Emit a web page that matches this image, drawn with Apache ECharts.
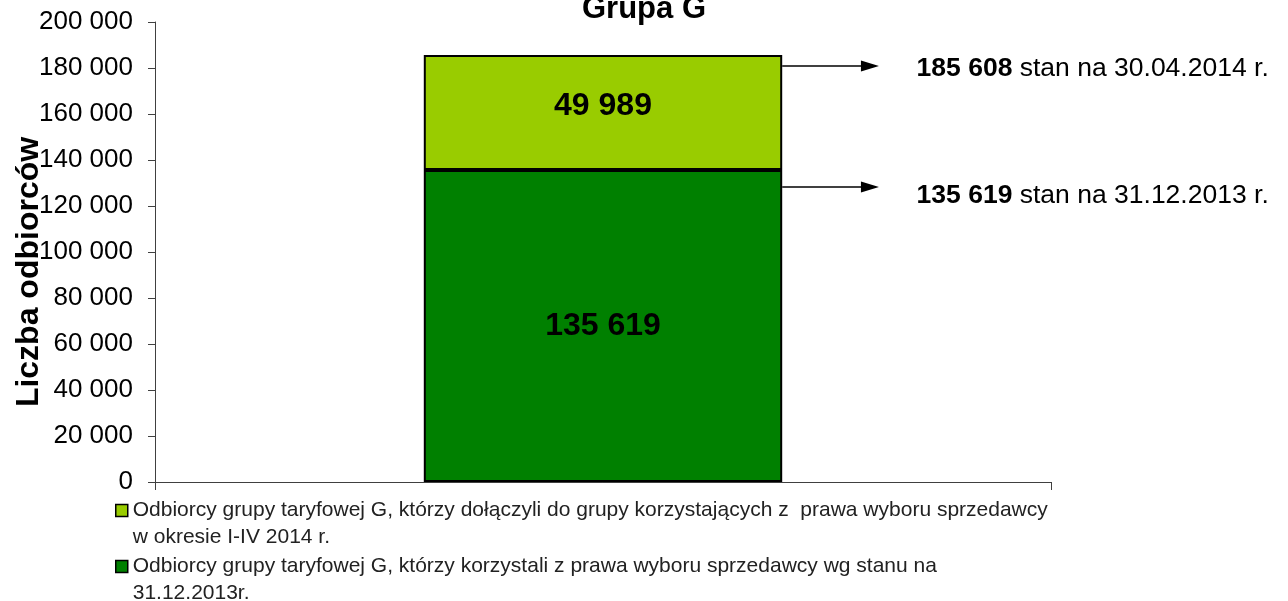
<!DOCTYPE html>
<html><head><meta charset="utf-8">
<script src="https://cdn.jsdelivr.net/npm/echarts@6/dist/echarts.min.js"></script>
<style>html,body{margin:0;padding:0;background:#fff}#c{width:1288px;height:601px}</style>
</head><body><div id="c"></div>
<script>
const title = 'Grupa G';
const categories = ['Grupa G'];
const seriesBaseName = 'Odbiorcy grupy taryfowej G, którzy korzystali z prawa wyboru sprzedawcy wg stanu na 31.12.2013r.';
const seriesAddedName = 'Odbiorcy grupy taryfowej G, którzy dołączyli do grupy korzystających z  prawa wyboru sprzedawcy w okresie I-IV 2014 r.';
const legendBaseText = 'Odbiorcy grupy taryfowej G, którzy korzystali z prawa wyboru sprzedawcy wg stanu na\n31.12.2013r.';
const legendAddedText = 'Odbiorcy grupy taryfowej G, którzy dołączyli do grupy korzystających z  prawa wyboru sprzedawcy\nw okresie I-IV 2014 r.';
const baseValues = [135619];
const addedValues = [49989];
const annotationValues = [185608, 135619];
const annotationDates = ['30.04.2014', '31.12.2013'];
const yTicks = [0, 20000, 40000, 60000, 80000, 100000, 120000, 140000, 160000, 180000, 200000];
const yAxisName = 'Liczba odbiorców';

// style-only offsets (pixels) for the annotation arrows/text
const arrowOffsets = [11, 17];
const textOffsets = [14, 26];

const fmt = v => String(v).replace(/\B(?=(\d{3})+(?!\d))/g, ' ');
const FONT = '"Liberation Sans", Arial, sans-serif';

const legendCommon = {
  orient: 'vertical', left: 115, padding: 0,
  itemWidth: 12, itemHeight: 12, icon: 'rect', selectedMode: false,
  itemStyle: {borderColor: '#000', borderWidth: 1.5},
  textStyle: {fontFamily: FONT, fontSize: 21, color: '#222', lineHeight: 27}
};

const chart = echarts.init(document.getElementById('c'));
chart.setOption({
  animation: false,
  backgroundColor: '#fff',
  title: {
    text: title, left: 'center', top: -6, padding: 0,
    textStyle: {fontFamily: FONT, fontSize: 31, fontWeight: 'bold', color: '#000'}
  },
  grid: {left: 155, right: 237, top: 22, bottom: 119, containLabel: false, outerBoundsMode: 'none'},
  legend: [
    Object.assign({}, legendCommon, {
      data: [seriesAddedName], top: 470,
      formatter: () => '\u00a0\n' + legendAddedText
    }),
    Object.assign({}, legendCommon, {
      data: [seriesBaseName], top: 526,
      formatter: () => '\u00a0\n' + legendBaseText
    })
  ],
  xAxis: {
    type: 'category', data: categories,
    axisLine: {lineStyle: {color: '#404040', width: 1}},
    axisTick: {show: true, length: 8, lineStyle: {color: '#404040'}},
    axisLabel: {show: false},
    splitLine: {show: false}
  },
  yAxis: {
    type: 'value', min: yTicks[0], max: yTicks[yTicks.length - 1], interval: yTicks[1] - yTicks[0],
    name: yAxisName, nameLocation: 'middle', nameGap: 110, nameRotate: 90, nameMoveOverlap: false,
    nameTextStyle: {fontFamily: FONT, fontSize: 32, fontWeight: 'bold', color: '#000', padding: [0, 40, 0, 0]},
    axisLine: {show: true, lineStyle: {color: '#404040', width: 1}},
    axisTick: {show: true, length: 7, lineStyle: {color: '#404040'}},
    axisLabel: {margin: 22, fontFamily: FONT, fontSize: 26, color: '#000', formatter: v => fmt(v)},
    splitLine: {show: false}
  },
  series: [
    {
      name: seriesBaseName, type: 'bar', stack: 'g', data: baseValues, barWidth: '40%',
      itemStyle: {color: '#008000', borderColor: '#000', borderWidth: 2},
      label: {show: true, position: 'inside', fontFamily: FONT, fontSize: 32, fontWeight: 'bold', color: '#000', formatter: p => fmt(p.value)}
    },
    {
      name: seriesAddedName, type: 'bar', stack: 'g', data: addedValues, barWidth: '40%',
      itemStyle: {color: '#99CC00', borderColor: '#000', borderWidth: 2},
      label: {show: true, position: 'inside', offset: [0, -6], fontFamily: FONT, fontSize: 32, fontWeight: 'bold', color: '#000', formatter: p => fmt(p.value)}
    },
    {
      name: 'annotations', type: 'custom', silent: true, clip: false,
      data: annotationValues.map(v => [0, v]),
      renderItem: (params, api) => {
        const i = params.dataIndex;
        const v = api.value(1);
        const c = api.coord([api.value(0), v]);
        const band = api.size([1, 0])[0];
        const y = c[1] + arrowOffsets[i];
        const x0 = c[0] + band * 0.2;
        const x1 = c[0] + band * 0.308;
        const xt = c[0] + band * 0.35;
        return {
          type: 'group',
          children: [
            {type: 'line', shape: {x1: x0, y1: y, x2: x1 - 16, y2: y}, style: {stroke: '#000', lineWidth: 1.5}},
            {type: 'polygon', shape: {points: [[x1 - 18, y - 5.5], [x1, y], [x1 - 18, y + 5.5]]}, style: {fill: '#000'}},
            {type: 'text', x: xt, y: c[1] + textOffsets[i], style: {
              text: '{b|' + fmt(v) + '} stan na ' + annotationDates[i] + ' r.',
              fontFamily: FONT, fontSize: 26.5, fill: '#000', verticalAlign: 'middle', align: 'left',
              rich: {b: {fontFamily: FONT, fontSize: 26.5, fontWeight: 'bold', fill: '#000'}}
            }}
          ]
        };
      }
    }
  ]
});
</script>
</body></html>
